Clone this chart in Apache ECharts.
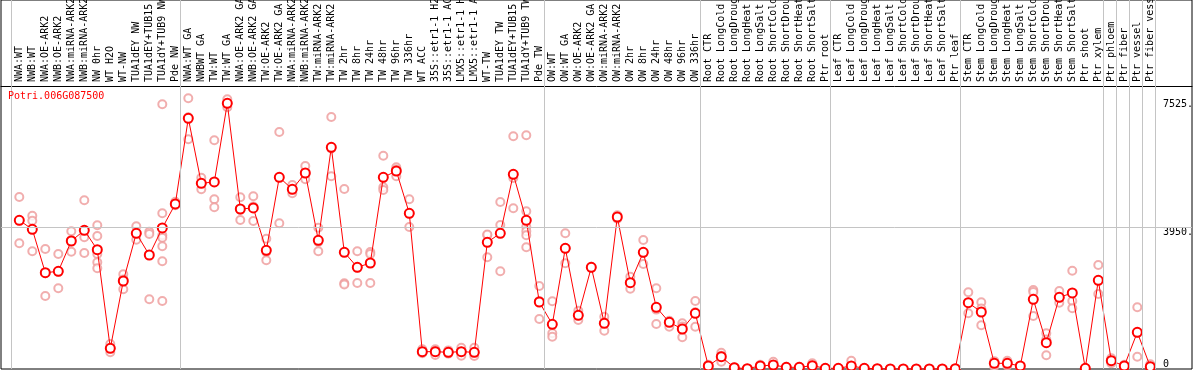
<!DOCTYPE html>
<html>
<head>
<meta charset="utf-8">
<script src="https://cdn.jsdelivr.net/npm/echarts@6/dist/echarts.min.js"></script>
<style>
html,body{margin:0;padding:0;background:#fff;}
#chart{width:1194px;height:370px;}
</style>
</head>
<body>
<div id="chart"></div>
<script>
const geneName = 'Potri.006G087500';

const categories = [
  'NWA:WT','NWB:WT','NWA:OE-ARK2','NWB:OE-ARK2','NWA:miRNA-ARK2','NWB:miRNA-ARK2','NW 0hr','WT H2O','WT-NW','TUA1dEY NW','TUA1dEY+TUB15 NW','TUA1dY+TUB9 NW','Pde NW',
  'NWA:WT GA','NWBWT GA','TW:WT','TW:WT GA','NWA:OE-ARK2 GA','NWB:OE-ARK2 GA','TW:OE-ARK2','TW:OE-ARK2 GA','NWA:miRNA-ARK2 GA','NWB:miRNA-ARK2 GA','TW:miRNA-ARK2','TW:miRNA-ARK2 GA',
  'TW 2hr','TW 8hr','TW 24hr','TW 48hr','TW 96hr','TW 336hr','WT ACC','35S::etr1-1 H2O','35S::etr1-1 ACC','LMX5::etr1-1 H2O','LMX5::etr1-1 ACC','WT-TW','TUA1dEY TW','TUA1dEY+TUB15 TW','TUA1dY+TUB9 TW','Pde TW',
  'OW:WT','OW:WT GA','OW:OE-ARK2','OW:OE-ARK2 GA','OW:miRNA-ARK2','OW:miRNA-ARK2 GA','OW 2hr','OW 8hr','OW 24hr','OW 48hr','OW 96hr','OW 336hr',
  'Root CTR','Root LongCold','Root LongDrought','Root LongHeat','Root LongSalt','Root ShortCold','Root ShortDrought','Root ShortHeat','Root ShortSalt','Ptr root',
  'Leaf CTR','Leaf LongCold','Leaf LongDrought','Leaf LongHeat','Leaf LongSalt','Leaf ShortCold','Leaf ShortDrought','Leaf ShortHeat','Leaf ShortSalt','Ptr leaf',
  'Stem CTR','Stem LongCold','Stem LongDrought','Stem LongHeat','Stem LongSalt','Stem ShortCold','Stem ShortDrought','Stem ShortHeat','Stem ShortSalt','Ptr shoot','Ptr xylem',
  'Ptr phloem','Ptr fiber','Ptr vessel','Ptr fiber vessel'
];

const means = [
  4157,3905,2692,2731,3578,3877,3335,579,2460,3793,3187,3942,4613,
  7008,5191,5228,7428,4473,4501,3318,5359,5024,5479,3598,6198,
  3262,2843,2963,5359,5535,4353,484,484,467,484,467,3542,3793,5443,4157,1873,
  1250,3374,1501,2843,1278,4249,2413,3262,1725,1306,1118,1557,
  84,344,36,10,84,112,48,48,92,20,
  20,84,20,10,0,0,0,0,0,10,
  1853,1593,159,159,84,1948,735,2004,2125,20,2480,
  232,84,1026,64
];

const replicates = [
  [4808,4150,3514],[4285,4146,3290],[3355,2680,2041],[3215,2722,2256],[3849,3606,3279],[4716,3682,3243],
  [4017,3718,3215,2983,2815],[699,580,467],[2647,2505,2228],[3989,3775,3615],[3838,3774,1948],
  [7400,4353,3738,3671,3430,3011,1901],[4677,4585,4577],
  [7567,7036,6421],[5348,5201,5024],[6393,4744,4520],[7539,7430,7316],[4800,4454,4165],[4828,4540,4137],
  [3643,3272,3039],[6625,4073],[5144,5017,4911],[5675,5459,5303],[3950,3554,3290],[7045,6162,5387],
  [5032,2396,2360],[3290,2835,2404],[3271,3215,2404],[5963,5080,5004],[5639,5579,5387],[4744,4345,3970],
  [551,460,439],[551,510,391],[520,439,430],[596,484,372],[596,440,363],
  [3746,3757,3123],[4668,4025,2731],[6505,5339,4492],[6533,4409,3978,3850,3738,3402],[2320,1900,1398],
  [1892,998,904],[3793,3374,2955],[1630,1500,1370],[2860,2830],[1462,1300,1071],[4297,4200],
  [2580,2413,2245],[3606,3245,2935],[2256,1660,1258],[1350,1306,1182],[1278,1190,886],[1901,1588,1182],
  [120,84,50],[456,372,204],[50,30],[10],[120,60],[204,90],[60,40],[60,40],[159,60],[20],
  [20],[232,20],[20],[10],[0],[0],[0],[0],[0],[10],
  [2144,1860,1557],[1865,1690,1222],[220,159,64],[232,159,90],[84,60],[2208,2152,1482],[998,824,383],
  [2180,1980,1853],[2748,1901,1697],[20],[2907,2480,2097],
  [299,232,159],[120,84],[1725,1010,344],[131,64]
];

// index of the last sample in each group (-1 = left edge)
const groupEnds = [-1, 12, 40, 52, 62, 72, 83, 84, 85, 86, 87];

const yTickLabels = [3950, 7525];
const yZeroLabel = [0];
const refLine = 3950;

const FONT = 'DejaVu Sans Mono';

const meanData = means.map((v, i) => [i, v]);
const repData = [];
replicates.forEach((arr, i) => arr.forEach(v => repData.push([i, v])));

const chart = echarts.init(document.getElementById('chart'), null, {renderer: 'canvas'});
chart.setOption({
  animation: false,
  backgroundColor: '#fff',
  title: {
    text: geneName, left: 8, top: 91, padding: 0,
    textStyle: {color: '#ff0000', fontSize: 10, fontFamily: FONT, fontWeight: 'normal'}
  },
  grid: {left: 1, right: 2, top: 0, bottom: 1, containLabel: false, outerBoundsMode: 'none',
         show: true, borderColor: '#000', borderWidth: 1, backgroundColor: '#fff'},
  xAxis: {
    type: 'value', position: 'top', offset: -86,
    min: -1.4077, max: 90.208,
    axisLine: {show: true, onZero: false, lineStyle: {color: '#000', width: 1}},
    axisTick: {show: false},
    splitLine: {show: false},
    axisLabel: {
      show: true, rotate: -90, margin: 4,
      customValues: categories.map((c, i) => i),
      formatter: v => categories[Math.round(v)] || '',
      fontFamily: FONT, fontSize: 10, color: '#000'
    }
  },
  yAxis: [{
    type: 'value', position: 'right', min: 0, max: 10315,
    axisLine: {show: false, onZero: false}, axisTick: {show: false}, splitLine: {show: false},
    axisLabel: {
      inside: true, margin: 29, align: 'left', verticalAlign: 'top',
      customValues: yTickLabels, formatter: v => v + '.',
      fontFamily: FONT, fontSize: 10, color: '#000'
    }
  }, {
    type: 'value', position: 'right', min: 0, max: 10315,
    axisLine: {show: false, onZero: false}, axisTick: {show: false}, splitLine: {show: false},
    axisLabel: {
      inside: true, margin: 29, align: 'left', verticalAlign: 'bottom',
      customValues: yZeroLabel, formatter: v => String(v),
      fontFamily: FONT, fontSize: 10, color: '#000'
    }
  }],
  series: [{
    type: 'line', data: [], yAxisIndex: 0, silent: true,
    markLine: {
      silent: true, symbol: ['none', 'none'], label: {show: false},
      lineStyle: {color: '#c4c4c4', type: 'solid', width: 1},
      data: groupEnds.map(b => ({xAxis: b + 0.36})).concat([{yAxis: refLine}])
    }
  }, {
    type: 'scatter', data: repData, yAxisIndex: 0,
    symbol: 'emptyCircle', symbolSize: 8,
    itemStyle: {color: '#ee9a9a', borderColor: '#ee9a9a', borderWidth: 1.2}
  }, {
    type: 'line', data: meanData, yAxisIndex: 0,
    symbol: 'emptyCircle', symbolSize: 9,
    lineStyle: {color: '#ff0000', width: 1},
    itemStyle: {color: '#ff0000', borderColor: '#ff0000', borderWidth: 1.5}
  }]
});
</script>
</body>
</html>
